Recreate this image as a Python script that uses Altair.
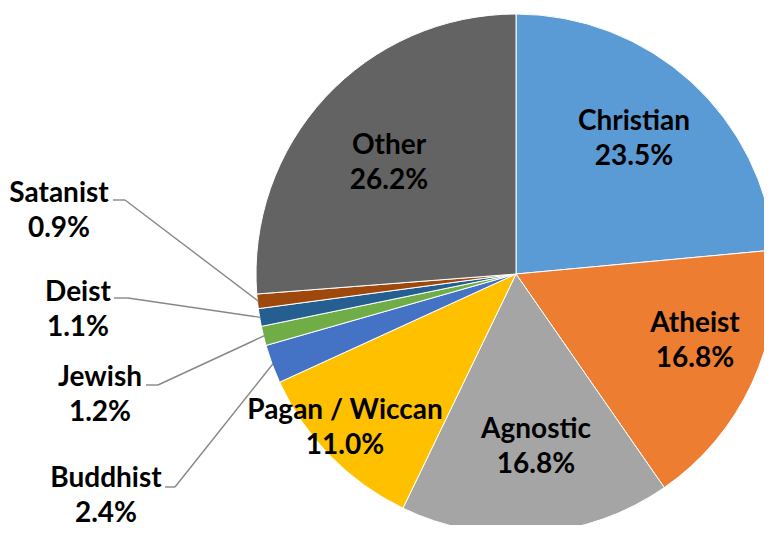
import math
import altair as alt
import pandas as pd

# ---- data -------------------------------------------------------------
categories = ["Christian", "Atheist", "Agnostic", "Pagan / Wiccan", "Buddhist",
              "Jewish", "Deist", "Satanist", "Other"]
shares = [23.5, 16.8, 16.8, 11.0, 2.4, 1.2, 1.1, 0.9, 26.2]
colors = ["#5B9BD5", "#ED7D31", "#A5A5A5", "#FFC000", "#4472C4",
          "#70AD47", "#255E91", "#9E480E", "#636363"]

# ---- layout (page pixels; the chart starts 8px in) ---------------------
OFF = 8
W, H = 756, 517
CX, CY, R = 508, 266, 260          # chart coordinates
FONT = "Lato"
FS = 28
LH = 35

# label first-line centre (page px)
label_pos = {
    "Christian": (634, 120), "Atheist": (695, 322), "Agnostic": (536, 428),
    "Pagan / Wiccan": (345, 409), "Other": (389, 144),
    "Satanist": (59, 192), "Deist": (78, 291), "Jewish": (100, 376),
    "Buddhist": (106, 477),
}
# leader lines: start x, elbow x, y (page px)
leaders = {
    "Satanist": (113, 125, 200), "Deist": (114, 128, 298),
    "Jewish": (146, 158, 385), "Buddhist": (165, 175, 487),
}

pct = [f"{v:.1f}%" for v in shares]
total = sum(shares)

df = pd.DataFrame({"category": categories, "share": shares,
                   "idx": list(range(len(categories)))})

lab_rows, lead_rows = [], []
cum = 0.0
for c, v, p in zip(categories, shares, pct):
    mid = 2 * math.pi * (cum + v / 2) / total
    cum += v
    lx, ly = label_pos[c]
    lab_rows.append({"label": f"{c}\n{p}", "x": lx - OFF, "y": ly - OFF + 2})
    if c in leaders:
        sx, ex, yy = leaders[c]
        lead_rows.append({
            "sx": sx - OFF, "ex": ex - OFF, "yy": yy - OFF,
            "edge_x": CX + (R - 1) * math.sin(mid),
            "edge_y": CY - (R - 1) * math.cos(mid),
        })
ldf = pd.DataFrame(lab_rows)
odf = pd.DataFrame(lead_rows)

arcs = alt.Chart(df).mark_arc(outerRadius=R, stroke="#ffffff", strokeWidth=1).encode(
    theta=alt.Theta("share:Q", stack=True),
    order=alt.Order("idx:Q"),
    color=alt.Color("category:N", scale=alt.Scale(domain=categories, range=colors),
                    legend=None),
    x=alt.value(CX), y=alt.value(CY),
)

obase = alt.Chart(odf)
leader_h = obase.mark_rule(color="#878787", strokeWidth=1.4).encode(
    x=alt.X("sx:Q", scale=None), x2="ex:Q",
    y=alt.Y("yy:Q", scale=None), y2="yy:Q",
)
leader_d = obase.mark_rule(color="#878787", strokeWidth=1.4).encode(
    x=alt.X("ex:Q", scale=None), x2="edge_x:Q",
    y=alt.Y("yy:Q", scale=None), y2="edge_y:Q",
)
labels = alt.Chart(ldf).mark_text(
    font=FONT, fontSize=FS, fontWeight="bold", color="#000000",
    lineBreak="\n", lineHeight=LH, align="center", baseline="middle",
).encode(
    x=alt.X("x:Q", scale=None),
    y=alt.Y("y:Q", scale=None),
    text="label:N",
)

chart = alt.layer(arcs, leader_h, leader_d, labels).properties(
    width=W, height=H, autosize="none", padding=0,
).configure_view(stroke=None)

chart.save("out.html", embed_options={"renderer": "svg", "actions": False})
